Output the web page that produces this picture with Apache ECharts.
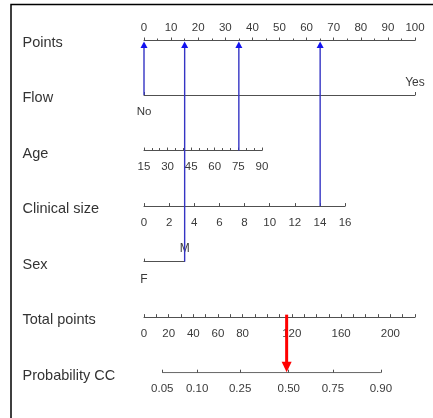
<!DOCTYPE html>
<html><head><meta charset="utf-8">
<script src="https://cdn.jsdelivr.net/npm/echarts@6/dist/echarts.min.js"></script>
<style>html,body{margin:0;padding:0;background:#fff}#c{width:433px;height:418px}</style>
</head><body><div id="c"></div>
<script>
// ---------------- data ----------------
const rowNames = ['Points', 'Flow', 'Age', 'Clinical size', 'Sex', 'Total points', 'Probability CC'];
const pointsMax = 100;
const pointsStep = 10;
const flowLevels = ['No', 'Yes'];
const flowMaxPoints = 100;
const ageMin = 15, ageMax = 90, ageStep = 15;
const ageMaxPoints = 43.5;
const sizeMin = 0, sizeMax = 16, sizeStep = 2;
const sizeMaxPoints = 74.2;
const sexLevels = ['F', 'M'];
const sexMaxPoints = 15;
const totalMax = 220;
const totalStep = 10;
const totalLabels = [0, 20, 40, 60, 80, 120, 160, 200];
const probLabels = ['0.05', '0.10', '0.25', '0.50', '0.75', '0.90'];
const probAtTotal = [14.8, 43.1, 78.0, 117.5, 153.3, 192.3];
// example patient: points read on the Points axis for each predictor
const arrowRows = ['Flow', 'Age', 'Clinical size', 'Sex'];
const arrowPoints = [0, 35, 65, 15];
const totalScore = 115.8;

// ---------------- layout / style ----------------
const FONT = 'Liberation Sans, Arial, Helvetica, sans-serif';
const L = 144, W = 271, TOP = 39.5, GAP = 55.53;
const rowY = i => TOP + i * GAP;
const LINE = '#505050';
const TXT = '#3a3a3a';
const lineStyle = { color: LINE, width: 1 };
const tick = (inside) => ({ show: true, inside: inside, length: 3, lineStyle: lineStyle });
const lab = (extra) => Object.assign({ color: TXT, fontSize: 11.5, fontFamily: FONT, margin: 10.5 }, extra || {});

const grids = [], xAxes = [], yAxes = [], series = [];
function addGrid(widthPts, top) {
  grids.push({ left: L, top: top, width: W * widthPts / pointsMax, height: 1, outerBoundsMode: 'none' });
  const g = grids.length - 1;
  yAxes.push({ gridIndex: g, type: 'value', min: 0, max: 1, show: false });
  return { g: g, y: yAxes.length - 1 };
}

// overlay grid (index 0) for arrows
grids.push({ left: L, top: TOP, width: W, height: 6 * GAP, outerBoundsMode: 'none' });
xAxes.push({ gridIndex: 0, type: 'value', min: 0, max: pointsMax, show: false });      // x0 points
xAxes.push({ gridIndex: 0, type: 'value', min: 0, max: totalMax, show: false });       // x1 total
yAxes.push({ gridIndex: 0, type: 'value', min: 0, max: rowNames.length - 1, inverse: true, show: false }); // y0

// label grid (index 1) for row names
grids.push({ left: 22.5, top: TOP + 3, width: 1, height: 6 * GAP, outerBoundsMode: 'none' });
xAxes.push({ gridIndex: 1, type: 'value', min: 0, max: 1, show: false });
yAxes.push({
  gridIndex: 1, type: 'category', data: rowNames, inverse: true, boundaryGap: false,
  axisLine: { show: false }, axisTick: { show: false }, splitLine: { show: false },
  axisLabel: { interval: 0, inside: true, align: 'left', margin: 0, fontSize: 14.5, color: '#333', fontFamily: FONT }
});

// Points
let r = addGrid(pointsMax, rowY(0));
xAxes.push({
  gridIndex: r.g, type: 'value', position: 'top', min: 0, max: pointsMax, interval: pointsStep,
  axisLine: { show: true, lineStyle }, axisTick: tick(false),
  minorTick: { show: true, splitNumber: 2, length: 2, lineStyle },
  splitLine: { show: false }, minorSplitLine: { show: false },
  axisLabel: lab({ margin: 6 })
});

// Flow
r = addGrid(flowMaxPoints, rowY(1) - 1);
xAxes.push({
  gridIndex: r.g, type: 'category', data: flowLevels, boundaryGap: false, position: 'bottom',
  axisLine: { show: true, lineStyle }, axisTick: Object.assign(tick(true), { interval: 0 }),
  axisLabel: lab({ interval: 0, formatter: (v, i) => i === 0 ? v : '' })
});
xAxes.push({
  gridIndex: r.g, type: 'category', data: flowLevels, boundaryGap: false, position: 'top',
  axisLine: { show: false }, axisTick: { show: false },
  axisLabel: lab({ interval: 0, margin: 5, fontSize: 12, formatter: (v, i) => i === flowLevels.length - 1 ? v : '' })
});

// Age
r = addGrid(ageMaxPoints, rowY(2) - 1);
xAxes.push({
  gridIndex: r.g, type: 'value', position: 'bottom', min: ageMin, max: ageMax, interval: ageStep,
  axisLine: { show: true, lineStyle }, axisTick: tick(true),
  minorTick: { show: true, splitNumber: 3, length: 2.5, lineStyle },
  splitLine: { show: false }, minorSplitLine: { show: false },
  axisLabel: lab()
});

// Clinical size
r = addGrid(sizeMaxPoints, rowY(3) - 1);
xAxes.push({
  gridIndex: r.g, type: 'value', position: 'bottom', min: sizeMin, max: sizeMax, interval: sizeStep,
  axisLine: { show: true, lineStyle }, axisTick: tick(true),
  splitLine: { show: false },
  axisLabel: lab()
});

// Sex
r = addGrid(sexMaxPoints, rowY(4) - 1);
xAxes.push({
  gridIndex: r.g, type: 'category', data: sexLevels, boundaryGap: false, position: 'bottom',
  axisLine: { show: true, lineStyle }, axisTick: Object.assign(tick(true), { interval: 0 }),
  axisLabel: lab({ interval: 0, margin: 12, fontSize: 12, formatter: (v, i) => i === 0 ? v : '' })
});
xAxes.push({
  gridIndex: r.g, type: 'category', data: sexLevels, boundaryGap: false, position: 'top',
  axisLine: { show: false }, axisTick: { show: false },
  axisLabel: lab({ interval: 0, margin: 6, fontSize: 12, formatter: (v, i) => i === sexLevels.length - 1 ? v : '' })
});

// Total points
r = addGrid(pointsMax, rowY(5) - 1);
xAxes.push({
  gridIndex: r.g, type: 'value', position: 'bottom', min: 0, max: totalMax, interval: totalStep,
  axisLine: { show: true, lineStyle }, axisTick: tick(true),
  splitLine: { show: false },
  axisLabel: lab({ formatter: v => totalLabels.indexOf(v) >= 0 ? String(v) : '' })
});

// Probability CC
r = addGrid(pointsMax, rowY(6) - 1);
const probX = xAxes.length;
xAxes.push({
  gridIndex: r.g, type: 'value', position: 'bottom', min: 0, max: totalMax,
  axisLine: { show: false },
  axisTick: Object.assign(tick(true), { customValues: probAtTotal }),
  splitLine: { show: false },
  axisLabel: lab({
    customValues: probAtTotal,
    formatter: v => {
      let k = 0, d = Infinity;
      probAtTotal.forEach((p, j) => { if (Math.abs(p - v) < d) { d = Math.abs(p - v); k = j; } });
      return probLabels[k];
    }
  })
});
series.push({
  type: 'line', xAxisIndex: probX, yAxisIndex: r.y, silent: true, symbol: 'none',
  lineStyle: { color: LINE, width: 1 },
  data: [[probAtTotal[0], 0], [probAtTotal[probAtTotal.length - 1], 0]]
});

// Blue arrows: predictor value -> Points axis
series.push({
  type: 'custom', xAxisIndex: 0, yAxisIndex: 0, silent: true, z: 5,
  data: arrowPoints.map((p, i) => [p, rowNames.indexOf(arrowRows[i])]),
  renderItem: (params, api) => {
    const a = api.coord([api.value(0), api.value(1)]);
    const b = api.coord([api.value(0), 0]);
    const tipY = b[1] + 2, h = 6.5, hw = 3.5;
    return {
      type: 'group', children: [
        { type: 'line', shape: { x1: a[0], y1: a[1], x2: a[0], y2: tipY + h - 1 }, style: { stroke: '#3434c4', lineWidth: 1.4 } },
        { type: 'polygon', shape: { points: [[b[0], tipY], [b[0] - hw, tipY + h], [b[0] + hw, tipY + h]] }, style: { fill: '#1212f0' } }
      ]
    };
  }
});

// Red arrow: total points -> probability
series.push({
  type: 'custom', xAxisIndex: 1, yAxisIndex: 0, silent: true, z: 6,
  data: [[totalScore, rowNames.indexOf('Total points'), rowNames.indexOf('Probability CC')]],
  renderItem: (params, api) => {
    const a = api.coord([api.value(0), api.value(1)]);
    const b = api.coord([api.value(0), api.value(2)]);
    const tipY = b[1] - 0.5, h = 10.5, hw = 5;
    return {
      type: 'group', children: [
        { type: 'line', shape: { x1: a[0], y1: a[1] - 2.5, x2: a[0], y2: tipY - h + 1 }, style: { stroke: '#ff0000', lineWidth: 3 } },
        { type: 'polygon', shape: { points: [[b[0], tipY], [b[0] - hw, tipY - h], [b[0] + hw, tipY - h]] }, style: { fill: '#ff0000' } }
      ]
    };
  }
});

const chart = echarts.init(document.getElementById('c'), null, { renderer: 'canvas' });
chart.setOption({
  animation: false,
  backgroundColor: '#fff',
  grid: grids, xAxis: xAxes, yAxis: yAxes, series: series,
  graphic: [{
    type: 'polyline', silent: true,
    shape: { points: [[11, 418], [11, 4.5], [433, 4.5]] },
    style: { stroke: '#000', lineWidth: 1.5, fill: null }
  }]
});
</script></body></html>
